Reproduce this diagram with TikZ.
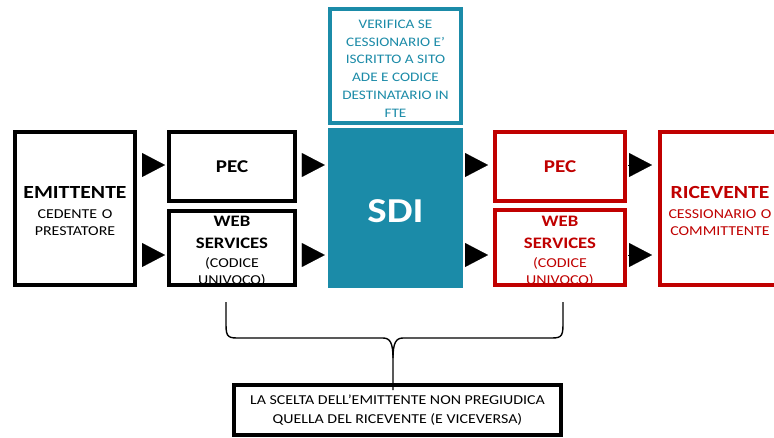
\documentclass[tikz,border=0pt]{standalone}
\usepackage{fontspec}
\setmainfont{Carlito}[FakeStretch=1.17]
\usetikzlibrary{arrows.meta}

\definecolor{sditeal}{HTML}{1B8BA8}
\definecolor{ricred}{HTML}{C00000}

\newcommand{\bigfont}{\fontsize{18.5}{22}\bfseries}
\newcommand{\headfont}{\fontsize{16}{18}\bfseries}
\newcommand{\smallfont}{\fontsize{13.6}{17.5}\mdseries\selectfont}

\tikzstyle{block} = [rectangle, draw, line width=4pt, outer sep=0pt, fill=white, inner sep=0pt, align=center]
\tikzstyle{redblock} = [block, draw=ricred, text=ricred]
\tikzstyle{txt} = [inner sep=0pt, text width=140pt, align=center, font=\smallfont]
\tikzstyle{arrowtip} = [draw, line width=0.1pt, -{Triangle[length=23pt,width=24pt]}]
\tikzstyle{line} = [draw, line width=1.4pt]

\begin{document}
\begin{tikzpicture}[x=1pt, y=-1pt, node distance=1cm]
    \useasboundingbox (0,0) rectangle (774,437);

    % sender side
    \node[block, minimum width=120pt, minimum height=153pt] (emit) at (75,208.5) {};
    \node[txt] (emitT) at (75,211) {{\bigfont EMITTENTE}\\[2.5pt]{\smallfont CEDENTE O}\\{\smallfont PRESTATORE}};
    \node[block, minimum width=126pt, minimum height=69pt, font=\fontsize{18}{20}\bfseries] (pecL) at (232,166.5) {PEC};
    \node[block, minimum width=126pt, minimum height=74pt] (wsL) at (232,248) {};
    \node[txt] (wsLT) at (232,251.5) {{\headfont WEB}\\[5pt]{\headfont SERVICES}\\[1pt]{\smallfont (CODICE}\\{\smallfont UNIVOCO)}};
    \draw[line width=4pt] (wsL.south west) rectangle (wsL.north east);

    % exchange system
    \node[rectangle, fill=sditeal, minimum width=135pt, minimum height=160pt] (sdi) at (395.5,208) {};
    \node[txt, text=white, font=\fontsize{35}{40}\bfseries] (sdiT) at (395.5,211.5) {SDI};
    \node[block, draw=sditeal, minimum width=131pt, minimum height=114pt] (check) at (395.5,66) {};
    \node[inner sep=0pt, align=center, text=sditeal, font=\fontsize{13}{17.8}\selectfont] (checkT) at (395.5,68.5)
        {VERIFICA SE\\CESSIONARIO E’\\ISCRITTO A SITO\\ADE E CODICE\\DESTINATARIO IN\\FTE};

    % receiver side
    \node[redblock, minimum width=130pt, minimum height=69pt, font=\fontsize{18}{20}\bfseries] (pecR) at (560,166.5) {PEC};
    \node[redblock, minimum width=130pt, minimum height=75pt] (wsR) at (560,247.5) {};
    \node[txt, text=ricred] (wsRT) at (560,251.5) {{\headfont WEB}\\[5pt]{\headfont SERVICES}\\[1pt]{\smallfont (CODICE}\\{\smallfont UNIVOCO)}};
    \draw[line width=4pt, ricred] (wsR.south west) rectangle (wsR.north east);
    \node[redblock, minimum width=120pt, minimum height=153pt] (ric) at (720,208.5) {};
    \node[txt, text=ricred] (ricT) at (720,211) {{\bigfont RICEVENTE}\\[2.5pt]{\smallfont CESSIONARIO O}\\{\smallfont COMMITTENTE}};

    % note
    \node[block, minimum width=327pt, minimum height=50pt, font=\fontsize{13.6}{18.5}\selectfont] (note) at (397.5,410)
        {LA SCELTA DELL’EMITTENTE NON PREGIUDICA\\QUELLA DEL RICEVENTE (E VICEVERSA)};

    % arrows
    \coordinate (hiY) at (0,165);
    \coordinate (loY) at (0,255);
    \draw[arrowtip] ([xshift=7pt]emit.east |- hiY) -- ([xshift=-4pt]pecL.west |- hiY);
    \draw[arrowtip] ([xshift=7pt]emit.east |- loY) -- ([xshift=-4pt]wsL.west |- loY);
    \draw[arrowtip] ([xshift=7pt]pecL.east |- hiY) -- ([xshift=-3pt]sdi.west |- hiY);
    \draw[arrowtip] ([xshift=7pt]wsL.east |- loY) -- ([xshift=-3pt]sdi.west |- loY);
    \draw[arrowtip] ([xshift=2pt]sdi.east |- hiY) -- ([xshift=-7pt]pecR.west |- hiY);
    \draw[arrowtip] ([xshift=2pt]sdi.east |- loY) -- ([xshift=-7pt]wsR.west |- loY);
    \draw[arrowtip] ([xshift=3pt]pecR.east |- hiY) -- ([xshift=-8pt]ric.west |- hiY);
    \draw[arrowtip] ([xshift=3pt]wsR.east |- loY) -- ([xshift=-8pt]ric.west |- loY);

    % brace
    \coordinate (bL) at (226,302);
    \coordinate (bR) at (563,302);
    \coordinate (bMid) at (393,338);
    \draw[line] (bL) -- (226,325) .. controls (226,338) and (229,338) .. (240,338)
        -- (383,338) .. controls (390,338) and (393,343) .. (393,358) -- ([yshift=-5pt]bMid |- note.north);
    \draw[line] (bR) -- (563,325) .. controls (563,338) and (560,338) .. (549,338)
        -- (403,338) .. controls (396,338) and (393,343) .. (393,358);
\end{tikzpicture}
\end{document}
